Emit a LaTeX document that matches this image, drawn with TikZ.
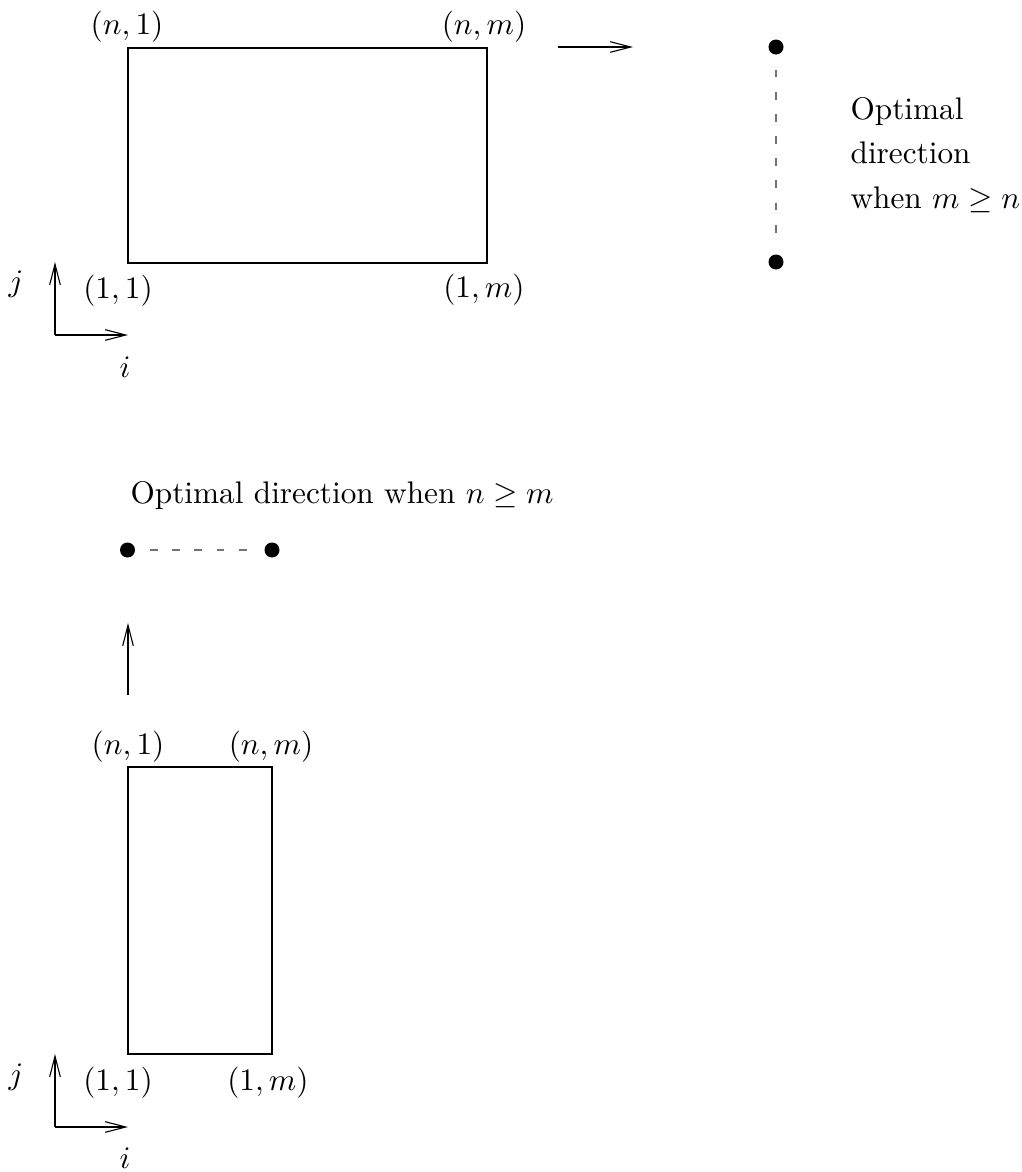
\documentclass[tikz,border=0pt]{standalone}
\usetikzlibrary{arrows.meta}
\begin{document}
\begin{tikzpicture}[x=0.32pt,y=-0.32pt,
  thinline/.style={line width=0.35pt},
  arr/.style={thinline,-{Straight Barb[length=6.6pt,width=3.4pt,line width=0.35pt]}},
  dotnode/.style={circle,fill=black,inner sep=0pt,minimum size=4.8pt},
  dashline/.style={line width=0.35pt,draw=black!55,dash pattern=on 2.5pt off 4.6pt,
    dash phase=2.5pt,shorten >=3pt},
  lbl/.style={inner sep=0pt,font=\fontsize{10}{12}\selectfont},
  txt/.style={inner sep=0pt,anchor=base west,font=\fontsize{10}{12}\selectfont}]
\useasboundingbox (0,0) rectangle (1021,1172);

% ---------- top panel ----------
\coordinate (A1) at (128,263);
\coordinate (A2) at (487,48);
\draw[thinline] (A1) rectangle (A2);
\node[lbl] (tn1) at (127,27) {$(n,1)$};
\node[lbl] (tnm) at (484,27) {$(n,m)$};
\node[lbl] (t11) at (118,291) {$(1,1)$};
\node[lbl] (t1m) at (484,290) {$(1,m)$};
\coordinate (to) at (55,335);
\coordinate (tj) at (55,262);
\coordinate (ti) at (128,335);
\draw[arr] (to) -- (tj);
\draw[arr] (to) -- (ti);
\node[lbl] (tjl) at (16,284) {$j$};
\node[lbl] (til) at (125,367) {$i$};
\coordinate (r1) at (558,47);
\coordinate (r2) at (633,47);
\draw[arr] (r1) -- (r2);
\node[dotnode] (d1) at (776,47) {};
\node[dotnode] (d2) at (776,262) {};
\draw[dashline] (d1) -- (d2);
\node[txt] (topt1) at (850,119) {Optimal};
\node[txt] (topt2) at (850,163) {direction};
\node[txt] (topt3) at (850,208) {when $m\geq n$};

% ---------- bottom panel ----------
\node[txt] (bopt) at (130,503) {Optimal direction when $n\geq m$};
\node[dotnode] (d3) at (127.5,550) {};
\node[dotnode] (d4) at (272,550) {};
\draw[dashline] (d3) -- (d4);
\coordinate (u1) at (128,695);
\coordinate (u2) at (128,623);
\draw[arr] (u1) -- (u2);
\coordinate (B1) at (128,1054);
\coordinate (B2) at (272,767);
\draw[thinline] (B1) rectangle (B2);
\node[lbl] (bn1) at (128,747) {$(n,1)$};
\node[lbl] (bnm) at (271,747) {$(n,m)$};
\node[lbl] (b11) at (118,1083) {$(1,1)$};
\node[lbl] (b1m) at (268,1083) {$(1,m)$};
\coordinate (bo) at (55,1127);
\coordinate (bj) at (55,1054);
\coordinate (bi) at (128,1127);
\draw[arr] (bo) -- (bj);
\draw[arr] (bo) -- (bi);
\node[lbl] (bjl) at (16,1077) {$j$};
\node[lbl] (bil) at (125,1158) {$i$};
\end{tikzpicture}
\end{document}
